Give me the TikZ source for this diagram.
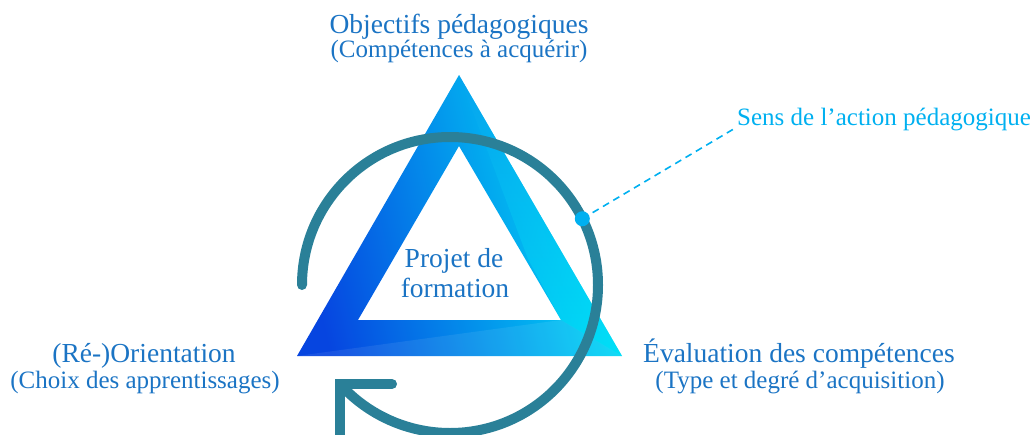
\documentclass[tikz,border=0pt]{standalone}
\usepackage{fontspec}
\setmainfont{Liberation Serif}
\usetikzlibrary{calc}
\definecolor{txtblue}{HTML}{1B74C4}
\definecolor{cyanlbl}{HTML}{00B0F0}
\definecolor{ringcol}{HTML}{2A8098}
\definecolor{triA}{HTML}{0645E0}
\definecolor{triB}{HTML}{0AA2EE}
\definecolor{triC}{HTML}{00E8F8}
\tikzset{
  big/.style={text=txtblue, font=\fontsize{27.5}{30}\selectfont, anchor=base, inner sep=0pt},
  small/.style={text=txtblue, font=\fontsize{25}{27}\selectfont, anchor=base, inner sep=0pt},
  ring/.style={draw=ringcol, line width=10pt},
}
\begin{document}
\begin{tikzpicture}[x=1pt,y=-1pt]
\useasboundingbox (0,0) rectangle (1031,434);
% triangle band
\path[even odd rule, left color=triA, middle color=triB, right color=triC, shading angle=103]
  (459,75)--(622,356)--(297,356)--cycle (459,146)--(561,320)--(358,320)--cycle;
% right facet
\path[top color=triB, bottom color=triC, opacity=0.55]
  (459,75)--(528,259)--(561,320)--(622,356)--cycle;
% bottom facet
\path[fill=white, opacity=0.08] (297,356)--(561,320)--(622,356)--cycle;
% circle arrow (y axis points down: angles are mirrored)
\coordinate (c) at (450,285);
\draw[ring, line cap=round] (c) ++(-180:148) arc[start angle=-180, end angle=138, radius=148] coordinate (tip);
\draw[ring, line cap=round, line join=miter] ($(tip)+(52,0)$) -- (tip) -- ($(tip)+(0,80)$);
% labels
\node[big] (obj) at (459,33) {Objectifs pédagogiques};
\node[small] (objs) at (459,57) {(Compétences à acquérir)};
\node[big] (proj1) at (454,267) {Projet de};
\node[big] (proj2) at (455,297) {formation};
\node[big] (ori) at (144,362) {(Ré-)Orientation};
\node[small] (oris) at (145,388) {(Choix des apprentissages)};
\node[big] (eva) at (799,362) {Évaluation des compétences};
\node[small] (evas) at (800,388) {(Type et degré d’acquisition)};
\node[text=cyanlbl, font=\fontsize{25}{28}\selectfont, anchor=base west, inner sep=0pt] (sens) at (737,125) {Sens de l’action pédagogique};
% pointer
\node[circle, fill=cyanlbl, minimum size=15pt, inner sep=0pt] (dot) at ($(c)+(-26.6:148)$) {};
\draw[cyanlbl, line width=1.6pt, dash pattern=on 7pt off 5pt] (dot.center) -- ($(sens.base west)+(0,2)$);
\end{tikzpicture}
\end{document}
